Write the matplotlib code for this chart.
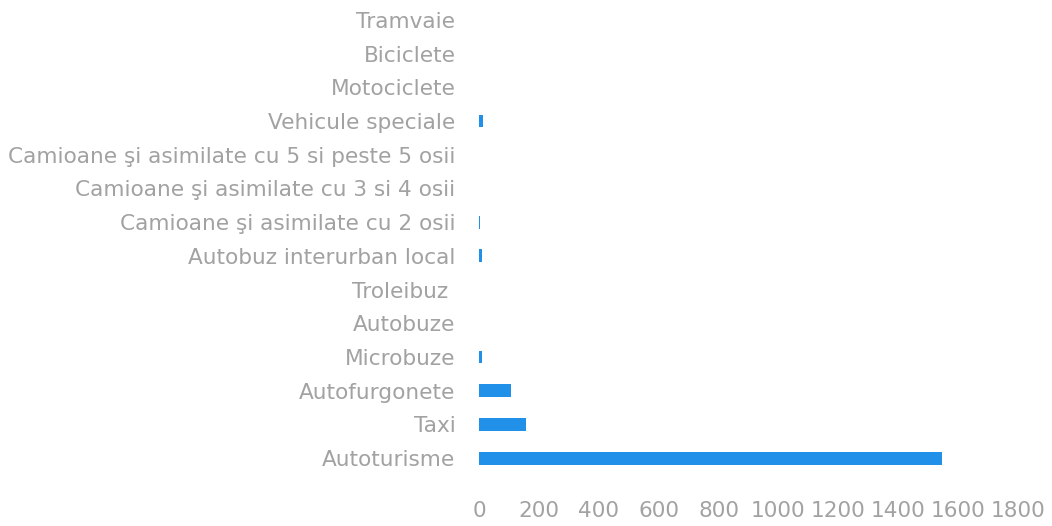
import matplotlib
matplotlib.use("Agg")
import matplotlib.pyplot as plt

categories = [
    "Autoturisme", "Taxi", "Autofurgonete", "Microbuze", "Autobuze", "Troleibuz ",
    "Autobuz interurban local", "Camioane şi asimilate cu 2 osii",
    "Camioane şi asimilate cu 3 si 4 osii",
    "Camioane şi asimilate cu 5 si peste 5 osii",
    "Vehicule speciale", "Motociclete", "Biciclete", "Tramvaie",
]
values = [1545, 157, 108, 9, 0, 0, 10, 4, 0, 0, 13, 0, 0, 0]
xticks = [0, 200, 400, 600, 800, 1000, 1200, 1400, 1600, 1800]

plt.rcParams['font.family'] = ['DejaVu Sans']

fig = plt.figure(figsize=(10.52, 5.26), dpi=100)
ax = fig.add_axes([479/1052, 1-475/526, (1018-479)/1052, 472/526])
ypos = list(range(len(categories)))
ax.barh(ypos, values, height=0.38, color='#2090E8')
ax.set_xlim(0, 1800)
ax.set_ylim(-0.5, len(categories) - 0.5)
ax.set_yticks(ypos)
ax.set_yticklabels(categories)
ax.set_xticks(xticks)
ax.set_xticklabels([str(t) for t in xticks])
for s in ax.spines.values():
    s.set_visible(False)

# fit label size so the longest label spans the same width as in the reference
probe = fig.text(0, 0, categories[9], fontsize=10)
fig.canvas.draw()
w = probe.get_window_extent().width
probe.remove()
fs = 10 * 445 / w

ax.tick_params(axis='both', length=0, colors='#a2a2a2', labelsize=fs)
ax.tick_params(axis='y', pad=17)
ax.tick_params(axis='x', pad=19)
fig.savefig("out.png", dpi=100)
